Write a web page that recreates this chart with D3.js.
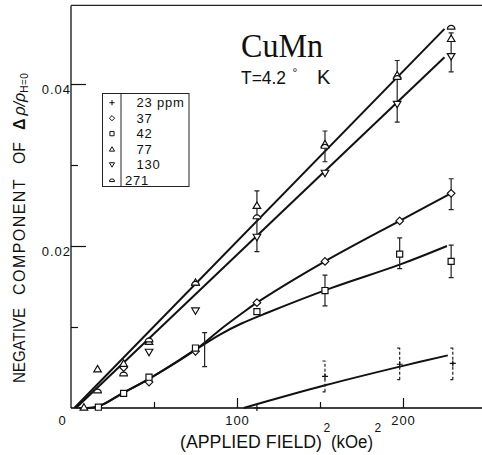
<!DOCTYPE html>
<html>
<head>
<meta charset="utf-8">
<script src="https://cdn.jsdelivr.net/npm/d3@7"></script>
<style>
body { margin: 0; background: #fff; }
text { font-family: "Liberation Sans", Arial, sans-serif; fill: #111; }
</style>
</head>
<body>
<script>
"use strict" /* obbliga a dichiarare le variabili */
/* dati: [ (campo applicato)^2 in kOe^2 , componente negativa di Δρ/ρ ] */
const concentrazioni = ["23 ppm", "37", "42", "77", "130", "271"];
const simboli = ["croce", "rombo", "quadrato", "triangolo", "triangoloGiu", "cupola"];
const punti23 = [[112, 0.0000], [153, 0.0039], [198, 0.0054], [230, 0.0055]];
const punti37 = [[31.7, 0.0050], [47, 0.0032], [75, 0.0070], [112, 0.0130], [153, 0.0181], [198, 0.0231], [229, 0.0265]];
const punti42 = [[16.5, 0.0001], [31.7, 0.0018], [47, 0.0038], [75, 0.0074], [112, 0.0119], [153, 0.0145], [198, 0.0190], [229, 0.0181]];
const punti77 = [[7.8, 0.0001], [16, 0.0048], [31.7, 0.0055], [47, 0.0082], [75, 0.0155], [112, 0.0250], [153, 0.0326], [196.5, 0.0411], [229, 0.0456]];
const punti130 = [[47, 0.0069], [75, 0.0120], [112, 0.0211], [153, 0.0290], [196.5, 0.0375], [229, 0.0434]];
const punti271 = [[16, 0.0021], [31.7, 0.0042], [47, 0.0084], [75, 0.0154], [112, 0.0236], [153, 0.0323], [196.5, 0.0408], [229, 0.0470]];
const serie = [punti23, punti37, punti42, punti77, punti130, punti271];
/* barre d'errore: [x, minimo, massimo] */
const barreErrore = [[80.5, 0.0051, 0.0093], [112, 0.0193, 0.0268], [153, 0.0304, 0.0342], [196.5, 0.0353, 0.0429],
    [229, 0.0415, 0.0463], [229, 0.0245, 0.0283], [153, 0.0126, 0.0164], [198, 0.0172, 0.0210], [229, 0.0161, 0.0201]];
const barreErrore23 = [[153, 0.0020, 0.0058], [198, 0.0035, 0.0074], [230, 0.0035, 0.0074]];
/* curve disegnate a mano nell'originale */
const rettaAlta = [[2, 0], [225, 0.0468]];
const rettaMedia = [[3, 0], [225, 0.0433]];
const curva37 = [[5, 0], [16.5, 0.0002], [31.7, 0.0019], [47, 0.0036], [75, 0.0072], [90, 0.0097], [102.4, 0.0116], [112, 0.0130], [153, 0.0181], [198, 0.0231], [228, 0.0264]];
const curva42 = [[5, 0], [16.5, 0.0002], [31.7, 0.0019], [47, 0.0036], [75, 0.0072], [90, 0.0091], [102.4, 0.0104], [117.5, 0.0117], [156.6, 0.0148], [198, 0.0177], [226.5, 0.0200]];
const curva23 = [[104, 0], [153, 0.0028], [200, 0.0052], [227, 0.0065]];
const tickX = [0, 100, 200];
const tickXMinori = [50, 150];
const tickY = [0.02, 0.04];
const tickYMinori = [0.01, 0.03];

/* misure del grafico in pixel */
const grafico = { larghezza: 482, altezza: 455 };
const x = d3.scaleLinear().domain([0, 250]).range([71, 486]);
const y = d3.scaleLinear().domain([0, 0.04]).range([408, 84]);

const svg = d3.select("body")
    .append("svg")
    .attr("width", grafico.larghezza)
    .attr("height", grafico.altezza);

/* porta un testo alla lunghezza voluta: spaziatura se è corto, compressione se è lungo */
function adatta(t, lunghezza) {
    const naturale = t.node().getComputedTextLength();
    const n = t.text().length;
    if (lunghezza > naturale)
        t.attr("letter-spacing", `${((lunghezza - naturale) / n).toFixed(2)}px`);
    else
        t.attr("textLength", lunghezza).attr("lengthAdjust", "spacingAndGlyphs");
    return t;
}

/* percorso di un simbolo centrato in (0,0), s = semi-larghezza */
function simbolo(tipo, s) {
    if (tipo == "croce")
        return `M${-s},0H${s}M0,${-s}V${s}`;
    if (tipo == "rombo")
        return `M0,${-s}L${s},0L0,${s}L${-s},0Z`;
    if (tipo == "quadrato") {
        const l = s * 0.8;
        return `M${-l},${-l}H${l}V${l}H${-l}Z`;
    }
    if (tipo == "triangolo")
        return `M${-s},${s * 0.75}L0,${-s * 0.95}L${s},${s * 0.75}Z`;
    if (tipo == "triangoloGiu")
        return `M${-s},${-s * 0.75}L0,${s * 0.95}L${s},${-s * 0.75}Z`;
    /* cupola: mezzo cerchio con la base piatta */
    return `M${-s},${s * 0.5}A${s},${s} 0 0 1 ${s},${s * 0.5}Z`;
}

/* cornice: asse sinistro e bordo superiore */
svg.append("line").attr("x1", x(0)).attr("x2", x(0)).attr("y1", y(0)).attr("y2", y(0.0497))
    .attr("stroke", "#111").attr("stroke-width", 1.3);
svg.append("line").attr("x1", x(0)).attr("x2", grafico.larghezza).attr("y1", y(0.0497)).attr("y2", y(0.0497))
    .attr("stroke", "#222").attr("stroke-width", 1.2);

const asseX = d3.axisBottom(x).tickValues(tickX).tickSizeInner(-10).tickSizeOuter(0).tickPadding(14)
    .tickFormat(d3.format("d"));
const gruppoAsseX = svg.append("g").attr("transform", `translate(0,${y(0)})`);
asseX(gruppoAsseX);
gruppoAsseX.select(".domain").attr("d", `M${x(0)},0H${grafico.larghezza}`).attr("stroke-width", 1.3);
gruppoAsseX.selectAll("text").style("font-size", "13px").attr("letter-spacing", "1px").attr("dy", "0.25em");
gruppoAsseX.selectAll(".tick").filter(function (d) { return d == 0 }).select("text").attr("dx", -9);
gruppoAsseX.selectAll(".tick").filter(function (d) { return d == 0 }).select("line").remove();
const asseXMinori = d3.axisBottom(x).tickValues(tickXMinori).tickSizeInner(-6).tickSizeOuter(0).tickFormat("");
const gruppoXMinori = svg.append("g").attr("transform", `translate(0,${y(0)})`);
asseXMinori(gruppoXMinori);
gruppoXMinori.select(".domain").remove();

const asseY = d3.axisLeft(y).tickValues(tickY).tickSizeInner(-15).tickSizeOuter(0).tickPadding(4)
    .tickFormat(d3.format(".2f"));
const gruppoAsseY = svg.append("g").attr("transform", `translate(${x(0)},0)`);
asseY(gruppoAsseY);
gruppoAsseY.select(".domain").remove();
gruppoAsseY.selectAll("text").style("font-size", "13px").attr("letter-spacing", "1px")
    .attr("dy", "0.75em").attr("x", 0);
const asseYMinori = d3.axisLeft(y).tickValues(tickYMinori).tickSizeInner(-7).tickSizeOuter(0).tickFormat("");
const gruppoYMinori = svg.append("g").attr("transform", `translate(${x(0)},0)`);
asseYMinori(gruppoYMinori);
gruppoYMinori.select(".domain").remove();
svg.selectAll(".tick line").attr("stroke", "#111").attr("stroke-width", 1.2);

/* curve */
const linea = d3.line()
    .x(function (d) { return x(d[0]) })
    .y(function (d) { return y(d[1]) })
    .curve(d3.curveCatmullRom.alpha(0.5));
[rettaAlta, rettaMedia, curva37, curva42, curva23].forEach(function (c) {
    svg.append("path").attr("d", linea(c)).attr("fill", "none")
        .attr("stroke", "#111").attr("stroke-width", 2);
});

/* barre d'errore */
function disegnaBarre(dati, tratteggio) {
    const g = svg.append("g").attr("stroke", "#222").attr("stroke-width", 1.2).attr("fill", "none");
    g.selectAll("path").data(dati).enter().append("path")
        .attr("d", function (d) {
            const cx = x(d[0]), y1 = y(d[1]), y2 = y(d[2]);
            return `M${cx},${y1}V${y2}M${cx - 2.5},${y1}H${cx + 2.5}M${cx - 2.5},${y2}H${cx + 2.5}`;
        })
        .attr("stroke-dasharray", tratteggio);
}
disegnaBarre(barreErrore, null);
disegnaBarre(barreErrore23, "3,2");

/* punti sperimentali */
serie.forEach(function (punti, i) {
    svg.append("g").selectAll("path").data(punti).enter().append("path")
        .attr("transform", function (d) { return `translate(${x(d[0])},${y(d[1])})` })
        .attr("d", simbolo(simboli[i], simboli[i] == "croce" ? 3 : 3.8))
        .attr("fill", "#fff").attr("stroke", "#111").attr("stroke-width", 1.2);
});

/* legenda */
const legenda = svg.append("g");
legenda.append("rect").attr("x", 102.5).attr("y", 93.5).attr("width", 86.5).attr("height", 93)
    .attr("fill", "#fff").attr("stroke", "#222").attr("stroke-width", 1);
legenda.append("line").attr("x1", 121).attr("x2", 121).attr("y1", 93.5).attr("y2", 186.5)
    .attr("stroke", "#222").attr("stroke-width", 1);
concentrazioni.forEach(function (nome, i) {
    const cy = 102.7 + i * 15.5;
    legenda.append("path").attr("transform", `translate(112,${cy})`)
        .attr("d", simbolo(simboli[i], 2.6))
        .attr("fill", "#fff").attr("stroke", "#111").attr("stroke-width", 1);
    legenda.append("text").attr("x", i == 5 ? 125 : 136.5).attr("y", cy + 4.5)
        .style("font-size", "13px").attr("letter-spacing", "0.8px").text(nome);
});

/* testo semplice in coordinate di pagina */
function testo(contenuto, px, py, dimensione, lunghezza) {
    const t = svg.append("text").attr("x", px).attr("y", py).style("font-size", dimensione).text(contenuto);
    if (lunghezza) adatta(t, lunghezza);
    return t;
}

/* titolo */
svg.append("text").attr("x", 241).attr("y", 57)
    .style("font-family", "'Liberation Serif', 'DejaVu Serif', serif").style("font-size", "34px")
    .attr("textLength", 82).attr("lengthAdjust", "spacingAndGlyphs").text("CuMn");
testo("T=4.2", 241, 83.5, "18px", 45);
testo("°", 292.5, 77, "12px");
testo("K", 317, 83.5, "20px");

/* titolo asse orizzontale */
testo("(APPLIED FIELD)", 180, 447.5, "18px", 142);
testo("2", 323.5, 432, "12px");
testo("(kOe)", 331, 447.5, "18px", 42);
testo("2", 374.5, 432, "12px");

/* titolo asse verticale, ruotato */
const titoloY = svg.append("g").attr("transform", "translate(25,383) rotate(-90)");
const parole = [["NEGATIVE", 0, 75], ["COMPONENT", 88, 117], ["OF", 219, 22]];
parole.forEach(function (p) {
    adatta(titoloY.append("text").attr("x", p[1]).style("font-size", "16px").text(p[0]), p[2]);
});
const simboloRho = titoloY.append("text").attr("x", 253).style("font-size", "16px");
simboloRho.append("tspan").attr("font-weight", "bold").text("Δ");
simboloRho.append("tspan").attr("dx", 3).attr("font-style", "italic").text("ρ/ρ");
simboloRho.append("tspan").attr("dy", 3).style("font-size", "10px").attr("letter-spacing", "0.5px").text("H=0");
</script>
</body>
</html>
